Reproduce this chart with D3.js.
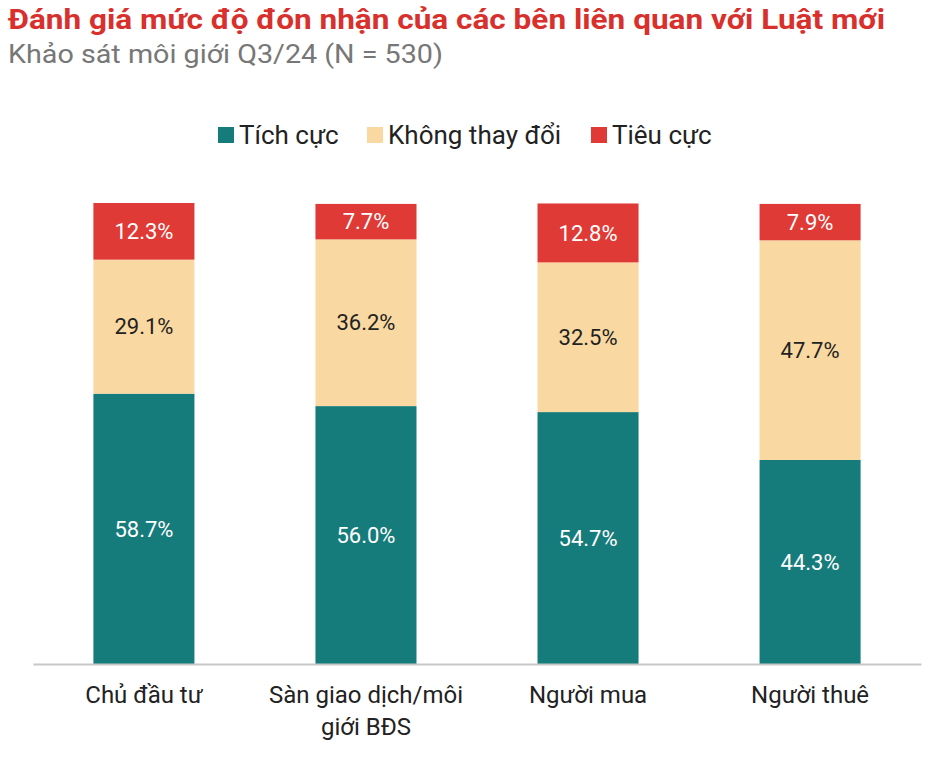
<!DOCTYPE html>
<html>
<head>
<meta charset="utf-8">
<script src="https://cdn.jsdelivr.net/npm/d3@7"></script>
<style>
  body { margin: 0; background: #fff; }
  svg { font-family: Roboto, "Noto Sans", sans-serif; }
</style>
</head>
<body>
<svg id="chart" width="936" height="774"></svg>
<script>
// data
const categories = ["Chủ đầu tư", "Sàn giao dịch/môi giới BĐS", "Người mua", "Người thuê"];
const categoryLines = [["Chủ đầu tư"], ["Sàn giao dịch/môi", "giới BĐS"], ["Người mua"], ["Người thuê"]];
const seriesNames = ["Tích cực", "Không thay đổi", "Tiêu cực"];
const tichCuc = [58.7, 56.0, 54.7, 44.3];
const khongThayDoi = [29.1, 36.2, 32.5, 47.7];
const tieuCuc = [12.3, 7.7, 12.8, 7.9];
const colors = ["#167b7b", "#f9d9a1", "#e03a36"];

const width = 936, height = 774;
const marginTop = 203, marginBottom = 110, marginLeft = 33, marginRight = 15;

const svg = d3.select("#chart");

// title + subtitle
svg.append("text")
  .attr("x", 8).attr("y", 29)
  .attr("fill", "#d8302c")
  .attr("font-weight", "bold")
  .attr("font-size", 28)
  .attr("textLength", 877)
  .attr("lengthAdjust", "spacingAndGlyphs")
  .text("Đánh giá mức độ đón nhận của các bên liên quan với Luật mới");

svg.append("text")
  .attr("x", 8).attr("y", 63)
  .attr("fill", "#777")
  .attr("font-size", 25)
  .attr("textLength", 435)
  .attr("lengthAdjust", "spacingAndGlyphs")
  .text("Khảo sát môi giới Q3/24 (N = 530)");

const rows = categories.map((c, i) => ({
  cat: c,
  [seriesNames[0]]: tichCuc[i],
  [seriesNames[1]]: khongThayDoi[i],
  [seriesNames[2]]: tieuCuc[i]
}));

const stacked = d3.stack().keys(seriesNames)(rows);

const x = d3.scaleBand().domain(categories)
  .range([marginLeft, width - marginRight])
  .paddingInner(0.545).paddingOuter(0.272);

const y = d3.scaleLinear().domain([0, 100.1])
  .range([height - marginBottom, marginTop]);

const color = d3.scaleOrdinal().domain(seriesNames).range(colors);

const layer = svg.append("g").selectAll("g")
  .data(stacked)
  .join("g")
  .attr("fill", d => color(d.key));

layer.selectAll("rect")
  .data(d => d)
  .join("rect")
  .attr("x", d => x(d.data.cat))
  .attr("width", x.bandwidth())
  .attr("y", d => y(d[1]))
  .attr("height", d => y(d[0]) - y(d[1]));

// value labels
const labels = svg.append("g");
stacked.forEach((s, si) => {
  labels.selectAll(null)
    .data(s)
    .join("text")
    .attr("x", d => x(d.data.cat) + x.bandwidth() / 2)
    .attr("y", d => (y(d[0]) + y(d[1])) / 2)
    .attr("dy", "0.35em")
    .attr("text-anchor", "middle")
    .attr("font-size", 22)
    .attr("fill", si === 1 ? "#222" : "#fff")
    .text(d => (d[1] - d[0]).toFixed(1) + "%");
});

// x axis
const xAxis = svg.append("g")
  .attr("transform", `translate(0,${y(0)})`)
  .call(d3.axisBottom(x).tickSize(0).tickSizeOuter(0).tickFormat(""));
xAxis.select(".domain").attr("stroke", "#c8c8c8").attr("stroke-width", 2);

xAxis.selectAll(".tick").each(function (d, i) {
  const t = d3.select(this).append("text")
    .attr("fill", "#222")
    .attr("font-size", 24)
    .attr("text-anchor", "middle")
    .attr("font-family", "Roboto, sans-serif");
  categoryLines[i].forEach((line, li) => {
    t.append("tspan").attr("x", 0).attr("y", 39 + li * 32).text(line);
  });
});

// legend
const legendX = [218, 367, 591];
const legend = svg.append("g").attr("transform", "translate(0,135)");
seriesNames.forEach((name, i) => {
  const g = legend.append("g").attr("transform", `translate(${legendX[i]},0)`);
  g.append("rect").attr("x", 0).attr("y", -8).attr("width", 16).attr("height", 16)
    .attr("fill", colors[i]);
  g.append("text").attr("x", 21).attr("y", 0).attr("dy", "0.35em")
    .attr("font-size", 26).attr("fill", "#222").text(name);
});
</script>
</body>
</html>
